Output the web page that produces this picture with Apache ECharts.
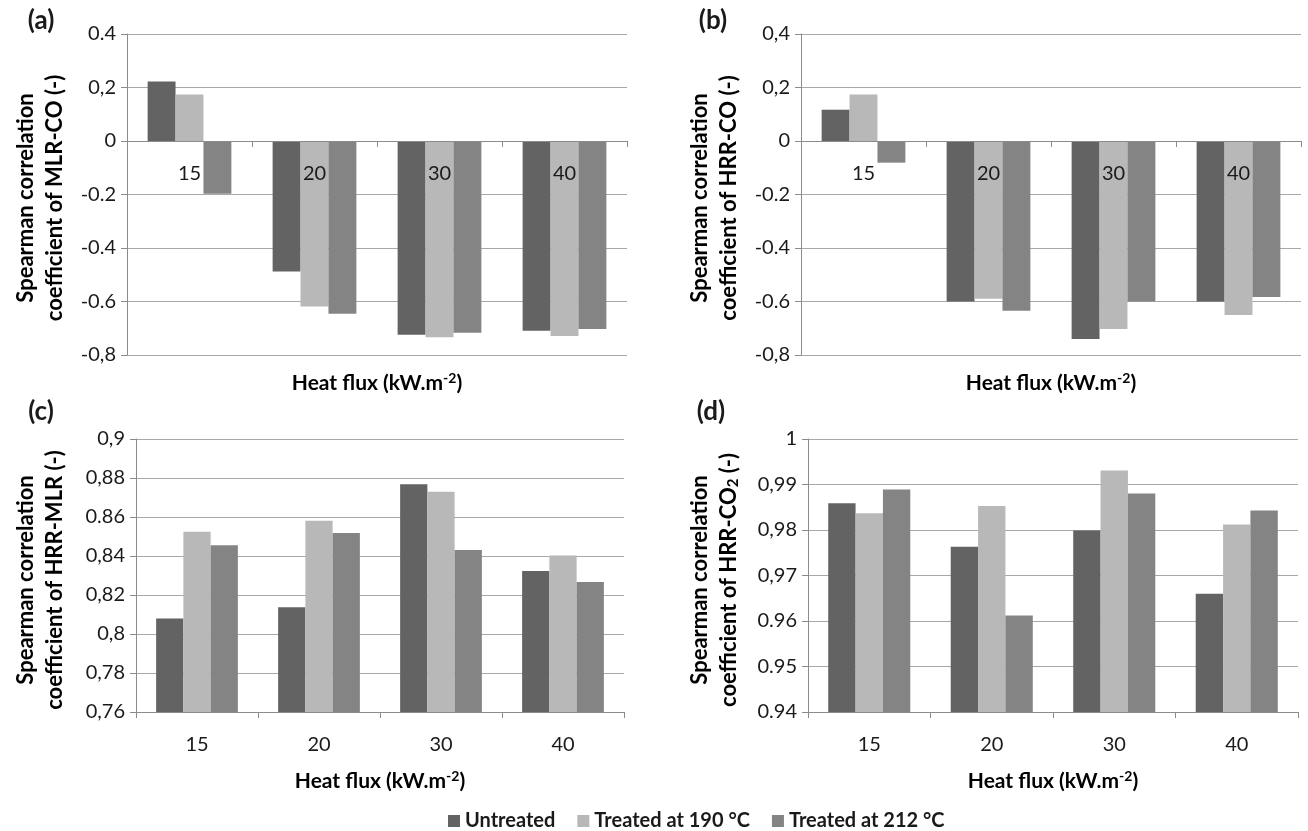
<!DOCTYPE html>
<html>
<head>
<meta charset="utf-8">
<script src="https://cdn.jsdelivr.net/npm/echarts@6/dist/echarts.min.js"></script>
<style>
html,body{margin:0;padding:0;background:#fff;}
#chart{width:1308px;height:831px;}
</style>
</head>
<body>
<div id="chart"></div>
<script>
// ---- data ----
const categories = ['15', '20', '30', '40'];
const seriesNames = ['Untreated', 'Treated at 190 °C', 'Treated at 212 °C'];

// (a) MLR-CO
const aUntreated = [0.222, -0.488, -0.724, -0.709];
const aT190      = [0.174, -0.619, -0.734, -0.729];
const aT212      = [-0.197, -0.646, -0.717, -0.703];
// (b) HRR-CO
const bUntreated = [0.117, -0.600, -0.740, -0.600];
const bT190      = [0.174, -0.590, -0.703, -0.650];
const bT212      = [-0.081, -0.635, -0.600, -0.583];
// (c) HRR-MLR
const cUntreated = [0.8079, 0.8137, 0.8768, 0.8323];
const cT190      = [0.8525, 0.8581, 0.8730, 0.8402];
const cT212      = [0.8455, 0.8518, 0.8431, 0.8267];
// (d) HRR-CO2
const dUntreated = [0.9859, 0.9763, 0.9799, 0.9660];
const dT190      = [0.9837, 0.9853, 0.9931, 0.9812];
const dT212      = [0.9889, 0.9612, 0.9880, 0.9843];

// tick labels (bottom to top), as printed
const aTicks = ['-0,8', '-0.6', '-0.4', '-0.2', '0', '0,2', '0.4'];
const bTicks = ['-0,8', '-0.6', '-0.4', '-0.2', '0', '0,2', '0,4'];
const cTicks = ['0,76', '0,78', '0,8', '0,82', '0,84', '0.86', '0,88', '0,9'];
const dTicks = ['0.94', '0.95', '0.96', '0,97', '0,98', '0,99', '1'];

// ---- styles ----
const colors = ['#636363', '#b8b8b8', '#848484'];
const FONT = 'Lato, "Open Sans", sans-serif';
const TXT = '#1a1a1a';
const axisGray = '#8c8c8c';
const gridGray = '#a8a8a8';

const grids = [
  {left: 127, top: 34, width: 500, height: 321},
  {left: 801, top: 34, width: 500, height: 321},
  {left: 136, top: 439, width: 488, height: 273},
  {left: 808, top: 439, width: 490, height: 273}
];
const yRanges = [
  {min: -0.8, max: 0.4, interval: 0.2, ticks: aTicks},
  {min: -0.8, max: 0.4, interval: 0.2, ticks: bTicks},
  {min: 0.76, max: 0.9, interval: 0.02, ticks: cTicks},
  {min: 0.94, max: 1.0, interval: 0.01, ticks: dTicks}
];
const panelData = [
  [aUntreated, aT190, aT212],
  [bUntreated, bT190, bT212],
  [cUntreated, cT190, cT212],
  [dUntreated, dT190, dT212]
];

const xAxes = grids.map((g, i) => ({
  type: 'category',
  gridIndex: i,
  data: categories,
  position: 'bottom',
  offset: 0,
  z: 10,
  axisLine: {show: true, onZero: false, lineStyle: {color: axisGray, width: 1}},
  axisTick: {show: true, length: 6, lineStyle: {color: axisGray}},
  axisLabel: {fontFamily: FONT, fontSize: 20, color: TXT, margin: 23},
  splitLine: {show: false}
}));

const yAxes = yRanges.map((r, i) => ({
  type: 'value',
  gridIndex: i,
  min: r.min, max: r.max, interval: r.interval,
  axisLine: {show: true, lineStyle: {color: axisGray, width: 1}},
  axisTick: {show: true, length: 6, lineStyle: {color: axisGray}},
  splitLine: {show: true, lineStyle: {color: gridGray, width: 1}},
  axisLabel: {
    fontFamily: FONT, fontSize: 20, color: TXT, margin: 11,
    formatter: (v, idx) => r.ticks[idx] !== undefined ? r.ticks[idx] : ''
  }
}));

const series = [];
panelData.forEach((arrs, p) => {
  arrs.forEach((arr, s) => {
    series.push({
      name: seriesNames[s],
      type: 'bar',
      xAxisIndex: p, yAxisIndex: p,
      data: arr,
      barGap: '0%',
      barCategoryGap: '33%',
      itemStyle: {color: colors[s]},
      emphasis: {disabled: true}
    });
  });
});

const bold = {fontFamily: FONT, fontWeight: 'bold', fontSize: 22, color: TXT};
const boldX = {fontFamily: FONT, fontWeight: 'bold', fontSize: 21, color: TXT};
const richY = {
  b: bold,
  sub: {fontFamily: FONT, fontWeight: 'bold', fontSize: 15, color: TXT, padding: [10, 0, 0, 0]}
};
const richX = {
  b: boldX,
  sup: {fontFamily: FONT, fontWeight: 'bold', fontSize: 14, color: TXT, padding: [0, 0, 9, 0]}
};

function yTitle(x, y, line2) {
  return {
    type: 'text', x: x, y: y, rotation: Math.PI / 2,
    style: {
      text: '{b|Spearman correlation}\n' + line2,
      rich: richY, align: 'center', verticalAlign: 'middle', lineHeight: 29
    }
  };
}
function xTitle(x, y) {
  return {
    type: 'text', x: x, y: y,
    style: {
      text: '{b|Heat flux (kW.m}{sup|-2}{b|)}',
      rich: richX, align: 'center', verticalAlign: 'middle'
    }
  };
}
function panelLabel(x, y, t) {
  return {
    type: 'text', x: x, y: y,
    style: {text: t, fontFamily: FONT, fontWeight: 'bold', fontSize: 26, fill: TXT, align: 'center', verticalAlign: 'middle'}
  };
}

const option = {
  animation: false,
  backgroundColor: '#ffffff',
  grid: grids,
  xAxis: xAxes,
  yAxis: yAxes,
  series: series,
  legend: {
    data: seriesNames,
    left: 443, top: 806,
    icon: 'rect', itemWidth: 12, itemHeight: 12, itemGap: 22, itemSpacing: 6,
    textStyle: {fontFamily: FONT, fontWeight: 'bold', fontSize: 20, color: TXT}
  },
  graphic: [
    panelLabel(41, 21, '(a)'),
    panelLabel(713, 21, '(b)'),
    panelLabel(41, 412, '(c)'),
    panelLabel(711, 412, '(d)'),
    yTitle(40, 198, '{b|coefficient of MLR-CO (-)}'),
    yTitle(714, 198, '{b|coefficient of HRR-CO (-)}'),
    yTitle(40, 580, '{b|coefficient of HRR-MLR (-)}'),
    yTitle(714, 580, '{b|coefficient of HRR-CO}{sub|2}{b| (-)}'),
    xTitle(377, 383),
    xTitle(1051, 383),
    xTitle(380, 781),
    xTitle(1053, 781)
  ]
};

const chart = echarts.init(document.getElementById('chart'), null, {renderer: 'canvas'});
chart.setOption(option);

// In panels (a) and (b) the category axis crosses the value axis at zero:
// shift each x axis up to the pixel of value 0, measured through the library's own scale.
const shifted = xAxes.map((ax, i) => {
  const r = yRanges[i];
  if (r.min < 0 && r.max > 0) {
    const zeroY = chart.convertToPixel({yAxisIndex: i}, 0);
    const minY = chart.convertToPixel({yAxisIndex: i}, r.min);
    return {offset: zeroY - minY};
  }
  return {offset: 0};
});
chart.setOption({xAxis: shifted});
</script>
</body>
</html>
